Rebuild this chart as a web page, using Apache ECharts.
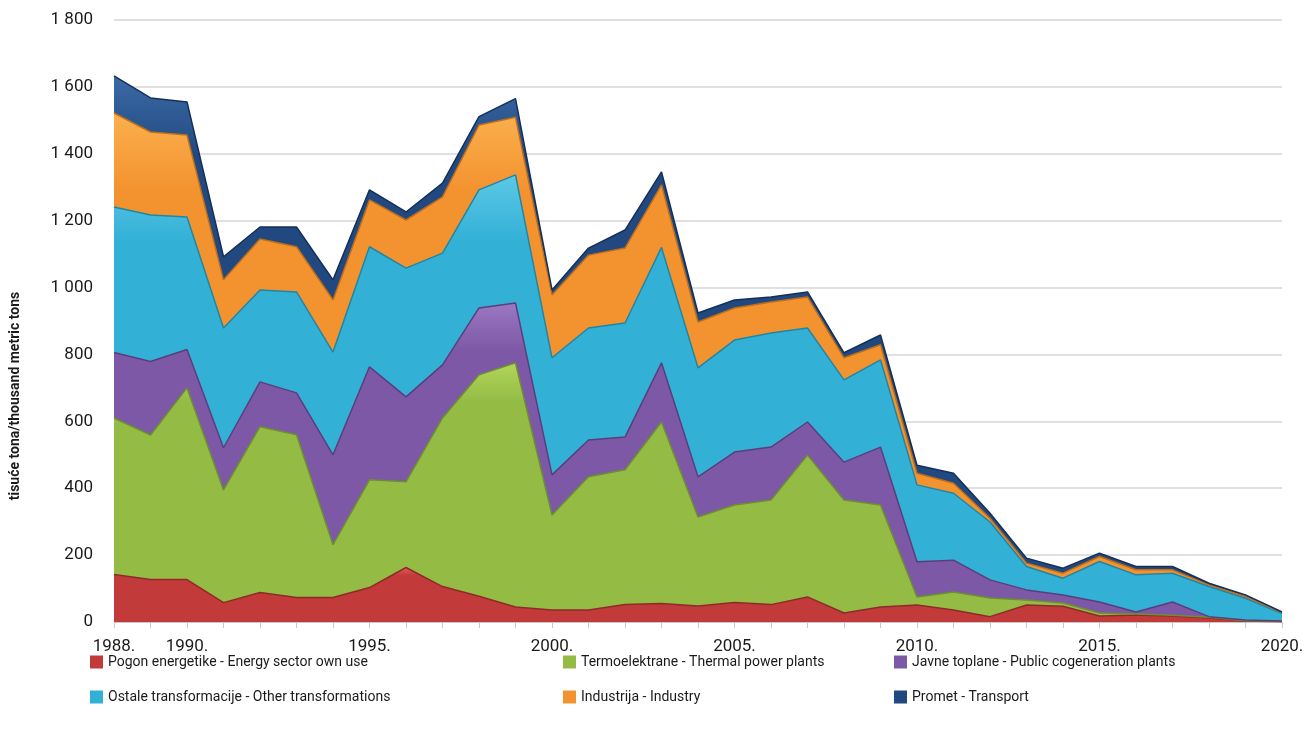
<!DOCTYPE html>
<html>
<head>
<meta charset="utf-8">
<script src="https://cdn.jsdelivr.net/npm/echarts@6/dist/echarts.min.js"></script>
<style>
  html, body { margin: 0; padding: 0; background: #fff; }
  #chart { width: 1308px; height: 740px; }
</style>
</head>
<body>
<div id="chart"></div>
<script>
const years = []
for (let y = 1988; y <= 2020; y++) years.push(String(y))

const shownYears = ["1988", "1990", "1995", "2000", "2005", "2010", "2015", "2020"]

// thousand metric tons
const energySector = [142, 127, 127, 58, 88, 73, 73, 103, 163, 106, 77, 45, 36, 36, 52, 55, 48, 58, 52, 75, 27, 45, 51, 36, 16, 51, 47, 18, 21, 18, 12, 3, 1]
const thermal = [468, 432, 573, 337, 496, 487, 158, 322, 256, 504, 662, 730, 284, 398, 403, 543, 266, 292, 313, 424, 338, 305, 24, 54, 56, 15, 10, 9, 3, 2, 2, 1, 1]
const cogeneration = [196, 220, 115, 126, 134, 125, 269, 338, 254, 159, 200, 179, 120, 110, 98, 177, 120, 158, 158, 99, 113, 173, 105, 95, 54, 30, 24, 33, 6, 40, 2, 2, 1]
const otherTransf = [435, 438, 396, 358, 275, 302, 307, 359, 385, 334, 353, 383, 350, 335, 341, 345, 326, 335, 341, 281, 246, 261, 230, 200, 173, 70, 50, 121, 111, 86, 90, 65, 22]
const industry = [281, 248, 245, 144, 152, 135, 156, 140, 144, 168, 194, 172, 188, 218, 224, 187, 137, 96, 93, 93, 66, 45, 35, 30, 11, 10, 15, 15, 15, 10, 5, 5, 3]
const transport = [111, 102, 99, 69, 36, 59, 60, 30, 24, 41, 25, 56, 15, 21, 54, 39, 27, 24, 15, 15, 15, 29, 24, 30, 15, 15, 15, 10, 10, 10, 5, 5, 2]

const names = [
    "Pogon energetike - Energy sector own use",
    "Termoelektrane - Thermal power plants",
    "Javne toplane - Public cogeneration plants",
    "Ostale transformacije - Other transformations",
    "Industrija - Industry",
    "Promet - Transport"
]
const values = [energySector, thermal, cogeneration, otherTransf, industry, transport]
// [top, body, edge]
const colors = [
    ["#e35a58", "#c23a3a", "#8e2a2a"],
    ["#b2d45a", "#94bc45", "#6d8f30"],
    ["#9b78c2", "#7d58a6", "#5a3e7c"],
    ["#5cc8e6", "#33b0d6", "#1f86a6"],
    ["#fbb04e", "#f39330", "#c06d18"],
    ["#3a6aa6", "#22497f", "#14305a"]
]

const chart = echarts.init(document.getElementById("chart"))

const FONT = "Roboto, 'Open Sans', sans-serif"

const legendPos = [[90, 655], [563, 655], [894, 655], [90, 690], [563, 690], [894, 690]]

const legends = names.map((n, i) => ({
    data: [n],
    left: legendPos[i][0],
    top: legendPos[i][1],
    icon: "rect",
    itemWidth: 13,
    itemHeight: 13,
    itemGap: 4,
    padding: 0,
    textStyle: { fontFamily: FONT, fontSize: 14, color: "#1a1a1a", padding: [1, 0, 0, 0] }
}))

const series = names.map((n, i) => ({
    name: n,
    type: "line",
    stack: "total",
    data: values[i],
    symbol: "none",
    lineStyle: { width: 1.5, color: colors[i][2] },
    itemStyle: { color: colors[i][1] },
    areaStyle: {
        opacity: 1,
        color: new echarts.graphic.LinearGradient(0, 0, 0, 1, [
            { offset: 0, color: colors[i][0] },
            { offset: 0.15, color: colors[i][1] },
            { offset: 1, color: colors[i][1] }
        ])
    },
    emphasis: { disabled: true }
}))

chart.setOption({
    animation: false,
    legend: legends,
    grid: { left: 107, right: 26, top: 20, bottom: 118, containLabel: false },
    xAxis: {
        type: "category",
        data: years,
        boundaryGap: false,
        axisLine: { lineStyle: { color: "#c8c8c8", width: 1 } },
        axisTick: { show: true, length: 6, interval: 0, lineStyle: { color: "#c8c8c8" } },
        axisLabel: {
            interval: 0,
            margin: 16,
            fontFamily: FONT,
            fontSize: 17,
            color: "#1a1a1a",
            formatter: v => shownYears.includes(v) ? v + "." : ""
        },
        splitLine: { show: false }
    },
    yAxis: {
        type: "value",
        min: 0,
        max: 1800,
        interval: 200,
        name: "tisuće tona/thousand metric tons",
        nameLocation: "middle",
        nameGap: 92,
        nameRotate: 90,
        nameTextStyle: { fontFamily: FONT, fontWeight: "bold", fontSize: 14, color: "#1a1a1a", padding: [0, 150, 0, 0] },
        axisLine: { show: false },
        axisTick: { show: false },
        axisLabel: {
            margin: 21,
            fontFamily: FONT,
            fontSize: 17,
            color: "#1a1a1a",
            formatter: v => v >= 1000 ? Math.floor(v / 1000) + " " + String(v % 1000).padStart(3, "0") : String(v)
        },
        splitLine: { lineStyle: { color: "#d6d6d6", width: 1.5 } }
    },
    series: series
})
</script>
</body>
</html>
